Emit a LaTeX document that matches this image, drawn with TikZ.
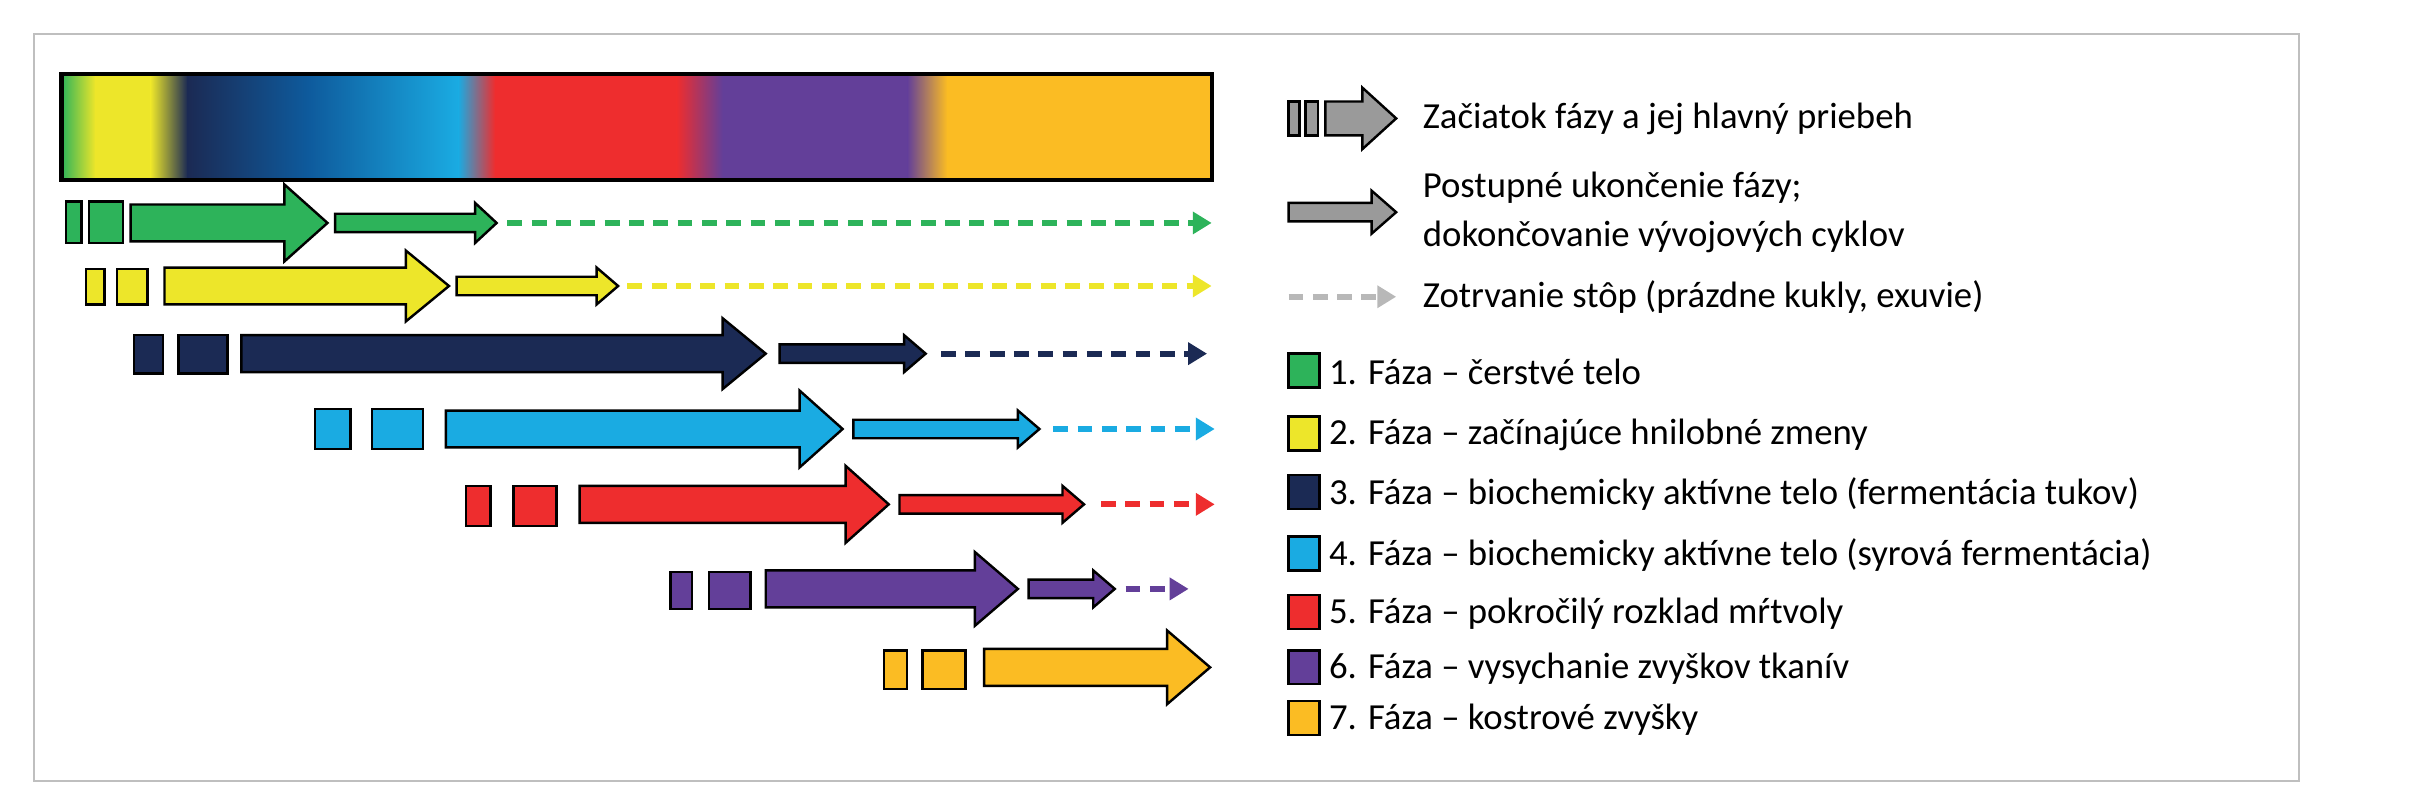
\documentclass[tikz,border=0pt]{standalone}
\usepackage{fontspec}
\setmainfont{Carlito}
\usetikzlibrary{arrows.meta}
\definecolor{cg}{HTML}{2DB35A}
\definecolor{cy}{HTML}{EDE62A}
\definecolor{cn}{HTML}{1B2A54}
\definecolor{cb}{HTML}{1AABE2}
\definecolor{cr}{HTML}{EE2D2E}
\definecolor{cp}{HTML}{633F99}
\definecolor{co}{HTML}{FBBC23}
\definecolor{gr}{HTML}{9A9A9A}
\newcommand\myarr[7]{\draw[ph=#7] (#1,{#3-#4})--({#2-#6},{#3-#4})--({#2-#6},{#3-#5})--(#2,#3)--({#2-#6},{#3+#5})--({#2-#6},{#3+#4})--(#1,{#3+#4})--cycle;}
\newcommand\myrect[5]{\draw[ph=#5] (#1,#2) rectangle (#3,#4);}
\newcommand\mydash[4]{\draw[dsh=#4] (#1,#3)--(#2,#3);}
\begin{document}
\begin{tikzpicture}[x=0.02cm,y=-0.02cm,
 ph/.style={draw=black,line width=0.9pt,fill=#1,line join=miter},
 dsh/.style={draw=#1,line width=2.2pt,dash pattern=on 5.5pt off 3.5pt,-{Triangle[length=7pt,width=8pt]}},
 lt/.style={anchor=west,font=\fontsize{13.6}{18}\selectfont,inner sep=0pt,align=left}]
\useasboundingbox (0,0) rectangle (1568,520);
\draw[gray!50,line width=0.8pt] (22,22) rectangle (1495,508);
% gradient bar
\shade[left color=cg,right color=cy] (40,48) rectangle (62,117);
\fill[cy] (62,48) rectangle (98,117);
\shade[left color=cy,right color=cn] (98,48) rectangle (122,117);
\shade[left color=cn,right color={rgb,255:red,14;green,90;blue,156}] (122,48) rectangle (200,117);
\shade[left color={rgb,255:red,14;green,90;blue,156},right color=cb] (200,48) rectangle (298,117);
\shade[left color=cb,right color=cr] (298,48) rectangle (322,117);
\fill[cr] (322,48) rectangle (440,117);
\shade[left color=cr,right color=cp] (440,48) rectangle (470,117);
\fill[cp] (470,48) rectangle (590,117);
\shade[left color=cp,right color=co] (590,48) rectangle (616,117);
\fill[co] (616,48) rectangle (788,117);
\draw[line width=1.6pt] (40,48) rectangle (788,117);
% row 1
\myrect{43}{131}{53}{158}{cg}\myrect{58}{131}{80}{158}{cg}
\myarr{85}{213}{145}{12}{25}{28}{cg}\myarr{218}{323}{145}{6}{13}{14}{cg}\mydash{330}{788}{145}{cg}
% row 2
\myrect{56}{175}{68}{198}{cy}\myrect{76}{175}{96}{198}{cy}
\myarr{107}{292}{186}{12}{23}{28}{cy}\myarr{297}{402}{186}{6}{12}{14}{cy}\mydash{408}{788}{186}{cy}
% row 3
\myrect{87}{218}{106}{243}{cn}\myrect{116}{218}{148}{243}{cn}
\myarr{157}{498}{230}{12}{23}{28}{cn}\myarr{507}{602}{230}{6}{12}{14}{cn}\mydash{612}{785}{230}{cn}
% row 4
\myrect{205}{266}{228}{292}{cb}\myrect{242}{266}{275}{292}{cb}
\myarr{290}{548}{279}{12}{25}{28}{cb}\myarr{555}{676}{279}{6}{12}{14}{cb}\mydash{685}{790}{279}{cb}
% row 5
\myrect{303}{316}{319}{342}{cr}\myrect{334}{316}{362}{342}{cr}
\myarr{377}{578}{328}{12}{25}{28}{cr}\myarr{585}{705}{328}{6}{12}{14}{cr}\mydash{716}{790}{328}{cr}
% row 6
\myrect{436}{372}{450}{396}{cp}\myrect{461}{372}{488}{396}{cp}
\myarr{498}{662}{383}{12}{24}{28}{cp}\myarr{669}{725}{383}{6}{12}{14}{cp}\mydash{732}{773}{383}{cp}
% row 7
\myrect{575}{423}{590}{448}{co}\myrect{600}{423}{628}{448}{co}
\myarr{640}{787}{434}{12}{24}{28}{co}
% legend
\myrect{838}{66}{845}{88}{gr}\myrect{849}{66}{857}{88}{gr}
\myarr{862}{908}{77}{11}{20}{22}{gr}
\node[lt] (l1) at (925,77) {Začiatok fázy a jej hlavný priebeh};
\myarr{838}{908}{138}{6}{14}{16}{gr}
\node[lt] (l2) at (925,138) {Postupné ukončenie fázy;\\dokončovanie vývojových cyklov};
\mydash{838}{908}{193}{gr!70}
\node[lt] (l3) at (925,193) {Zotrvanie stôp (prázdne kukly, exuvie)};
\foreach \c/\y/\t in {cg/241/{1. Fáza – čerstvé telo},cy/282/{2. Fáza – začínajúce hnilobné zmeny},cn/320/{3. Fáza – biochemicky aktívne telo (fermentácia tukov)},cb/360/{4. Fáza – biochemicky aktívne telo (syrová fermentácia)},cr/398/{5. Fáza – pokročilý rozklad mŕtvoly},cp/434/{6. Fáza – vysychanie zvyškov tkanív},co/467/{7. Fáza – kostrové zvyšky}}{
 \draw[ph=\c] (838,\y-11) rectangle (858,\y+11);
 \node[lt] at (864,\y+1) {\t};
}
\end{tikzpicture}
\end{document}
